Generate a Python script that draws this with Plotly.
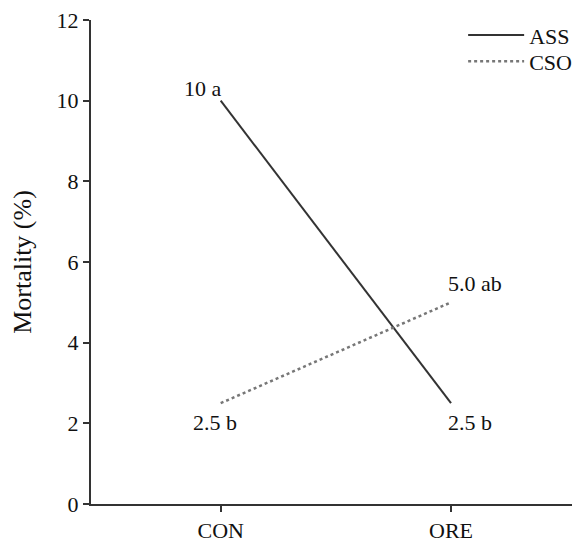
import plotly.graph_objects as go

categories = ["CON", "ORE"]
cat_pos = [0, 1]
ass_values = [10.0, 2.5]
cso_values = [2.5, 5.0]
ass_labels = ["10 a", "2.5 b"]
cso_labels = ["2.5 b", "5.0 ab"]
y_ticks = [0, 2, 4, 6, 8, 10, 12]

FONT = "Liberation Serif, Times New Roman, serif"

fig = go.Figure()
fig.add_trace(go.Scatter(x=cat_pos, y=ass_values, mode="lines", name="ASS",
                         line=dict(color="#333333", width=2), legend="legend"))
fig.add_trace(go.Scatter(x=cat_pos, y=cso_values, mode="lines", name="CSO",
                         line=dict(color="#777777", width=2.5, dash="dot"), legend="legend2"))

fig.add_annotation(x=cat_pos[0], y=ass_values[0], text=ass_labels[0], showarrow=False,
                   xanchor="right", yanchor="bottom", xshift=3, yshift=-2)
fig.add_annotation(x=cat_pos[1], y=ass_values[1], text=ass_labels[1], showarrow=False,
                   xanchor="left", yanchor="top", xshift=-5, yshift=-5)
fig.add_annotation(x=cat_pos[0], y=cso_values[0], text=cso_labels[0], showarrow=False,
                   xanchor="center", yanchor="top", xshift=-6, yshift=-5)
fig.add_annotation(x=cat_pos[1], y=cso_values[1], text=cso_labels[1], showarrow=False,
                   xanchor="left", yanchor="bottom", xshift=-5, yshift=4)

legend_style = dict(xanchor="left", yanchor="top", bgcolor="rgba(0,0,0,0)",
                    font=dict(size=22), itemwidth=56)

fig.update_layout(
    width=572, height=535,
    margin=dict(l=83, r=0, t=12, b=35),
    plot_bgcolor="white", paper_bgcolor="white",
    font=dict(family=FONT, size=22, color="#111111"),
    showlegend=True,
    legend=dict(x=0.761, y=1.012, **legend_style),
    legend2=dict(x=0.761, y=0.958, **legend_style),
    xaxis=dict(range=[-0.563, 1.56], tickvals=cat_pos, ticktext=categories,
               showline=True, linecolor="#333333", linewidth=2,
               ticks="outside", ticklen=6, tickwidth=2, tickcolor="#333333",
               showgrid=False, zeroline=False),
    yaxis=dict(range=[0, 12], tickvals=y_ticks, ticklabeloverflow="allow",
               title=dict(text="Mortality (%)", font=dict(size=26), standoff=20),
               showline=True, linecolor="#333333", linewidth=2,
               ticks="outside", ticklen=6, tickwidth=2, tickcolor="#333333",
               showgrid=False, zeroline=False),
)

fig.write_html("out.html")
